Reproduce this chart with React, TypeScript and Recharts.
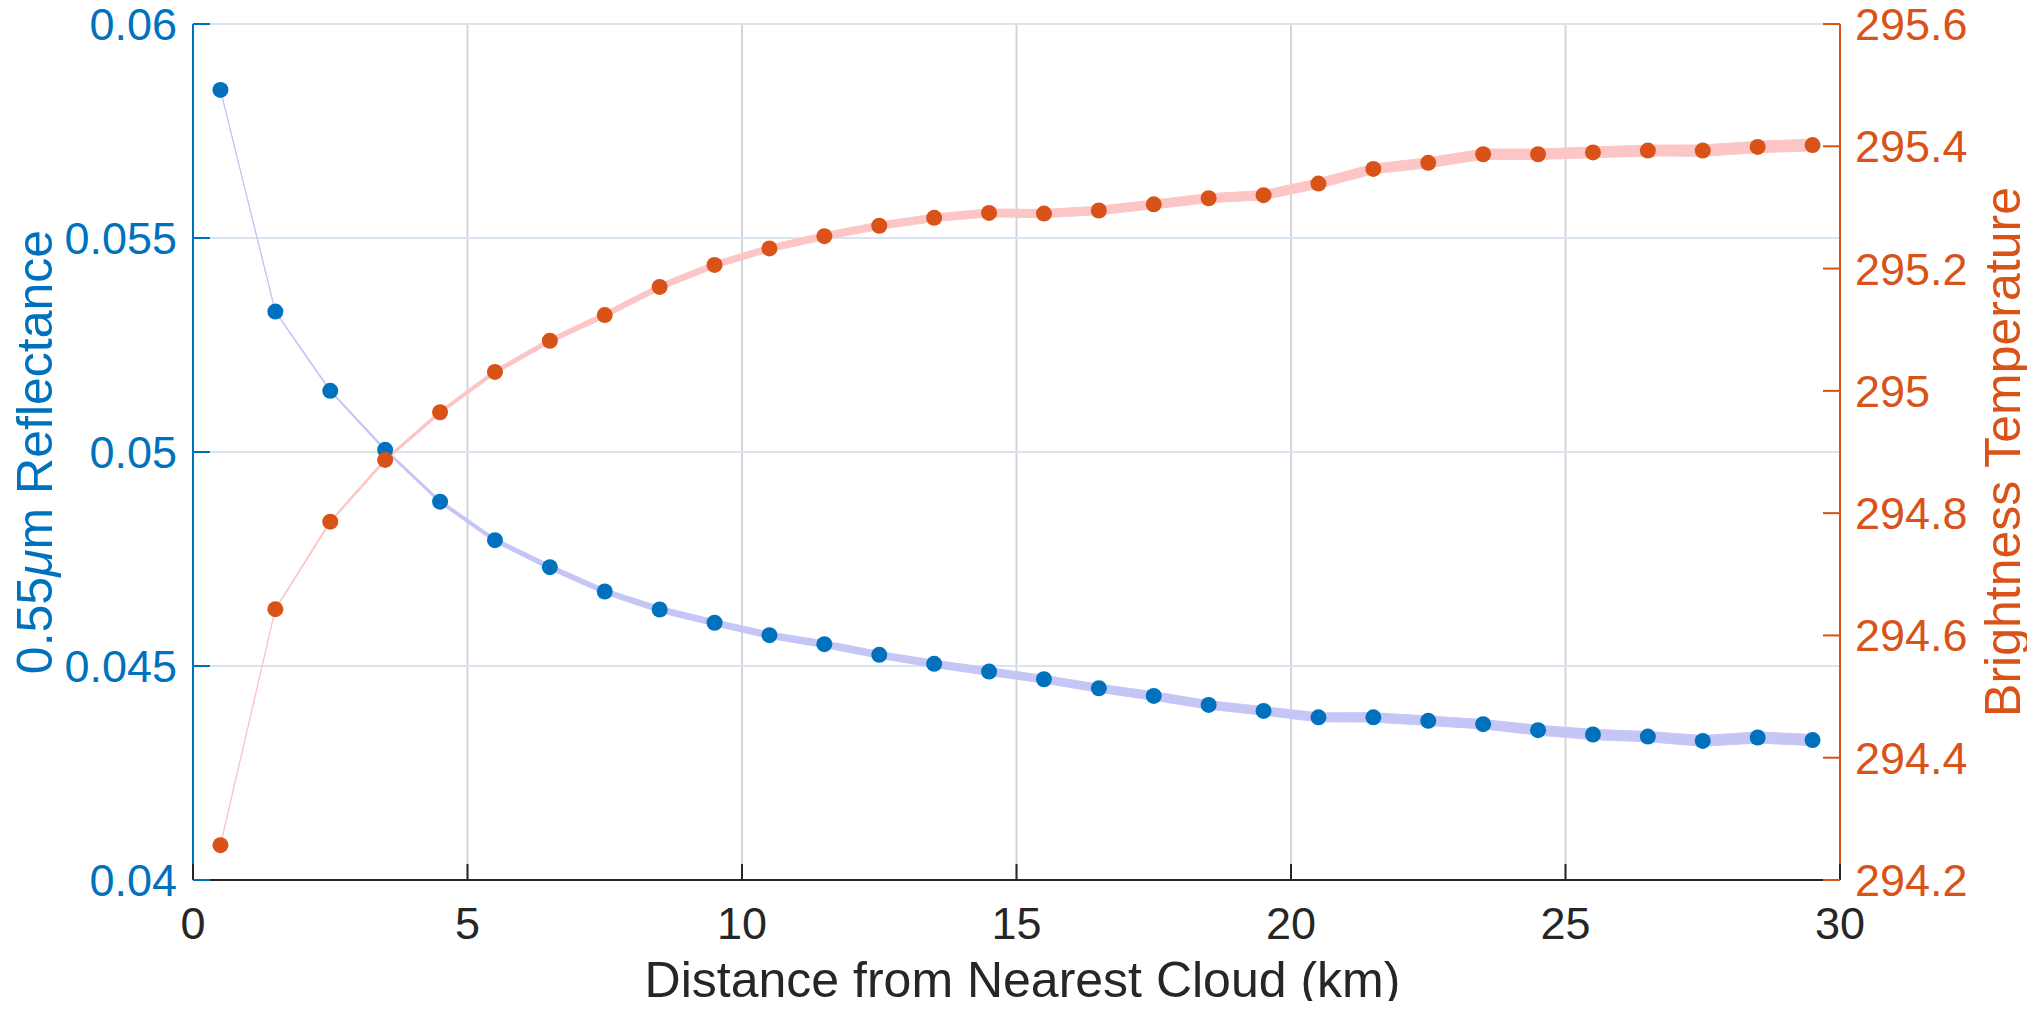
import React from 'react';
import { ComposedChart, Area, Line, XAxis, YAxis, CartesianGrid, Label } from 'recharts';

const distance = [0.5, 1.5, 2.5, 3.5, 4.5, 5.5, 6.5, 7.5, 8.5, 9.5, 10.5, 11.5, 12.5, 13.5, 14.5, 15.5, 16.5, 17.5, 18.5, 19.5, 20.5, 21.5, 22.5, 23.5, 24.5, 25.5, 26.5, 27.5, 28.5, 29.5];
const reflectance = [0.05846, 0.05328, 0.05143, 0.05005, 0.04884, 0.04794, 0.04731, 0.04674, 0.04632, 0.04601, 0.04572, 0.04551, 0.04526, 0.04505, 0.04487, 0.04469, 0.04448, 0.0443, 0.04409, 0.04395, 0.0438, 0.0438, 0.04372, 0.04364, 0.0435, 0.0434, 0.04335, 0.04325, 0.04333, 0.04327];
const reflectanceErr = [0.00001, 0.000015, 0.00002, 0.00003, 0.00004, 0.00005, 0.00006, 0.00006, 0.00007, 0.00007, 0.000075, 0.00008, 0.00008, 0.000085, 0.00009, 0.00009, 0.000095, 0.0001, 0.0001, 0.0001, 0.000105, 0.00011, 0.00011, 0.00011, 0.000115, 0.00012, 0.00012, 0.000125, 0.00013, 0.00013];
const brightnessTemp = [294.257, 294.643, 294.786, 294.887, 294.965, 295.031, 295.082, 295.124, 295.17, 295.206, 295.233, 295.253, 295.27, 295.283, 295.291, 295.29, 295.295, 295.305, 295.315, 295.32, 295.339, 295.363, 295.373, 295.387, 295.387, 295.39, 295.393, 295.393, 295.399, 295.402];
const brightnessTempErr = [0.0008, 0.0012, 0.0018, 0.0025, 0.003, 0.0035, 0.004, 0.0045, 0.005, 0.0052, 0.0055, 0.0058, 0.006, 0.0062, 0.0065, 0.0067, 0.007, 0.0072, 0.0074, 0.0076, 0.0078, 0.008, 0.0082, 0.0084, 0.0086, 0.0088, 0.009, 0.0092, 0.0094, 0.0096];

const xTicks = [0, 5, 10, 15, 20, 25, 30];
const leftTicks = [0.04, 0.045, 0.05, 0.055, 0.06];
const rightTicks = [294.2, 294.4, 294.6, 294.8, 295, 295.2, 295.4, 295.6];

const xLabel = 'Distance from Nearest Cloud (km)';
const rightLabel = 'Brightness Temperature';

const BLUE = '#0072BD';
const ORANGE = '#D95319';
const DARK = '#262626';
const FONT = '"Liberation Sans", Arial, Helvetica, sans-serif';
const TICK_FS = 45;
const LABEL_FS = 50;

const data = distance.map((d, i) => ({
  x: d,
  ref: reflectance[i],
  refBand: [reflectance[i] - reflectanceErr[i], reflectance[i] + reflectanceErr[i]],
  bt: brightnessTemp[i],
  btBand: [brightnessTemp[i] - brightnessTempErr[i], brightnessTemp[i] + brightnessTempErr[i]],
}));

const LeftTick = (props: any) => {
  const { x, y, payload } = props;
  return (
    <g>
      <line x1={x} x2={x + 17} y1={y} y2={y} stroke={BLUE} strokeWidth={2} />
      <text x={x - 16} y={y + 16} textAnchor="end" fill={BLUE} fontSize={TICK_FS} fontFamily={FONT}>
        {String(payload.value)}
      </text>
    </g>
  );
};

const RightTick = (props: any) => {
  const { x, y, payload } = props;
  return (
    <g>
      <line x1={x - 17} x2={x} y1={y} y2={y} stroke={ORANGE} strokeWidth={2} />
      <text x={x + 15} y={y + 16} textAnchor="start" fill={ORANGE} fontSize={TICK_FS} fontFamily={FONT}>
        {String(payload.value)}
      </text>
    </g>
  );
};

const BottomTick = (props: any) => {
  const { x, y, payload } = props;
  return (
    <g>
      <line x1={x} x2={x} y1={y - 16} y2={y} stroke={DARK} strokeWidth={2} />
      <text x={x} y={y + 59} textAnchor="middle" fill={DARK} fontSize={TICK_FS} fontFamily={FONT}>
        {String(payload.value)}
      </text>
    </g>
  );
};

const XLabelContent = (props: any) => {
  const vb = props.viewBox;
  return (
    <text x={vb.x + vb.width / 2 + 6} y={vb.y + 117} textAnchor="middle" fill={DARK} fontSize={LABEL_FS} fontFamily={FONT}>
      {xLabel}
    </text>
  );
};

const LeftLabelContent = (props: any) => {
  const vb = props.viewBox;
  const cx = vb.x + 52;
  const cy = vb.y + vb.height / 2;
  return (
    <text x={cx} y={cy} transform={`rotate(-90, ${cx}, ${cy})`} textAnchor="middle" fill={BLUE} fontSize={LABEL_FS} fontFamily={FONT}>
      0.55<tspan fontStyle="italic">μ</tspan>m Reflectance
    </text>
  );
};

const RightLabelContent = (props: any) => {
  const vb = props.viewBox;
  const cx = vb.x + 180;
  const cy = vb.y + vb.height / 2;
  return (
    <text x={cx} y={cy} transform={`rotate(-90, ${cx}, ${cy})`} textAnchor="middle" fill={ORANGE} fontSize={LABEL_FS} fontFamily={FONT}>
      {rightLabel}
    </text>
  );
};

export default function App() {
  return (
    <div style={{ margin: '-8px', width: 2035, height: 1009, overflow: 'hidden', background: '#fff' }}>
      <ComposedChart
        width={2035}
        height={1009}
        data={data}
        margin={{ top: 24, right: 0, bottom: 0, left: 0 }}
        style={{ fontFamily: FONT }}
      >
        <CartesianGrid xAxisId="x" yAxisId="left" horizontal={false} stroke="#d3d5d8" strokeWidth={2} />
        <CartesianGrid xAxisId="x" yAxisId="left" vertical={false} stroke="#d8e5f1" strokeWidth={2} />
        <XAxis
          xAxisId="x"
          dataKey="x"
          type="number"
          domain={[0, 30]}
          ticks={xTicks}
          allowDataOverflow
          height={129}
          tickSize={0}
          tickMargin={0}
          tickLine={false}
          tick={<BottomTick />}
          axisLine={{ stroke: DARK, strokeWidth: 2 }}
          interval={0}
        >
          <Label content={<XLabelContent />} />
        </XAxis>
        <XAxis
          xAxisId="top"
          orientation="top"
          type="number"
          domain={[0, 30]}
          height={0}
          tick={false}
          tickLine={false}
          axisLine={{ stroke: DARK, strokeWidth: 2 }}
        />
        <YAxis
          yAxisId="left"
          orientation="left"
          type="number"
          domain={[0.04, 0.06]}
          ticks={leftTicks}
          allowDataOverflow
          width={193}
          tickSize={0}
          tickMargin={0}
          tickLine={false}
          tick={<LeftTick />}
          axisLine={{ stroke: BLUE, strokeWidth: 2 }}
          interval={0}
        >
          <Label content={<LeftLabelContent />} />
        </YAxis>
        <YAxis
          yAxisId="right"
          orientation="right"
          type="number"
          domain={[294.2, 295.6]}
          ticks={rightTicks}
          allowDataOverflow
          width={195}
          tickSize={0}
          tickMargin={0}
          tickLine={false}
          tick={<RightTick />}
          axisLine={{ stroke: ORANGE, strokeWidth: 2 }}
          interval={0}
        >
          <Label content={<RightLabelContent />} />
        </YAxis>
        <Area
          xAxisId="x"
          yAxisId="left"
          type="linear"
          dataKey="refBand"
          fill="#c6c6f6"
          fillOpacity={1}
          stroke="#c6c6f6"
          strokeWidth={1}
          isAnimationActive={false}
          activeDot={false}
        />
        <Line
          xAxisId="x"
          yAxisId="left"
          type="linear"
          dataKey="ref"
          stroke="none"
          dot={{ r: 8, fill: BLUE, stroke: 'none' }}
          activeDot={false}
          isAnimationActive={false}
        />
        <Area
          xAxisId="x"
          yAxisId="right"
          type="linear"
          dataKey="btBand"
          fill="#fdc6c6"
          fillOpacity={1}
          stroke="#fdc6c6"
          strokeWidth={1}
          isAnimationActive={false}
          activeDot={false}
        />
        <Line
          xAxisId="x"
          yAxisId="right"
          type="linear"
          dataKey="bt"
          stroke="none"
          dot={{ r: 8, fill: ORANGE, stroke: 'none' }}
          activeDot={false}
          isAnimationActive={false}
        />
      </ComposedChart>
    </div>
  );
}
